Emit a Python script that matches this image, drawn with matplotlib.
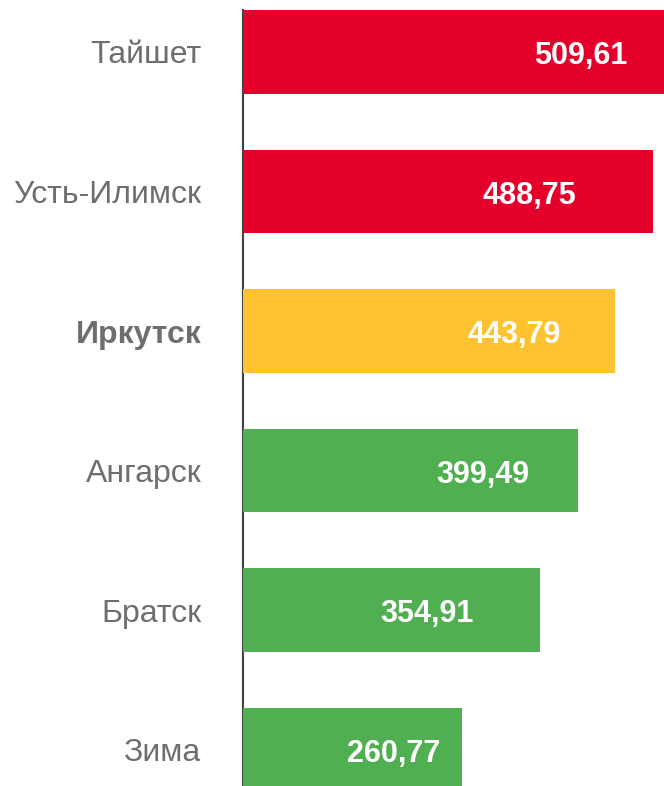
import matplotlib.pyplot as plt

plt.rcParams['font.family'] = ['Liberation Sans', 'DejaVu Sans']

# Data
cities = ["Тайшет", "Усть-Илимск", "Иркутск", "Ангарск", "Братск", "Зима"]
values = [509.61, 488.75, 443.79, 399.49, 354.91, 260.77]
colors = ["#E4002B", "#E4002B", "#FFC230", "#50AF50", "#50AF50", "#50AF50"]
# where the value text sits along each bar (share of bar length)
label_frac = [0.79, 0.70, 0.73, 0.715, 0.62, 0.69]

fig = plt.figure(figsize=(6.64, 7.86), dpi=100)
ax = fig.add_axes([243 / 664, 0, 1 - 243 / 664, 1 - 10 / 786])

pos = list(range(len(cities)))
ax.barh(pos, values, height=0.6, color=colors, zorder=2)

for p, v, f in zip(pos, values, label_frac):
    ax.text(v * f, p + 0.03, f"{v:.2f}".replace(".", ","), ha="center", va="center",
            color="white", fontsize=22, fontweight="bold", zorder=3)

ax.set_xlim(0, 502.4)
ax.set_ylim(5.26, -0.3)
ax.set_yticks(pos)
ax.set_yticklabels(cities, fontsize=23, color="#6E6E6E")
for lbl in ax.get_yticklabels():
    if lbl.get_text() == "Иркутск":
        lbl.set_fontweight("bold")
ax.tick_params(axis="y", length=0, pad=30)
ax.set_xticks([])

for s in ["top", "right", "bottom"]:
    ax.spines[s].set_visible(False)
ax.spines["left"].set_color("#404040")
ax.spines["left"].set_linewidth(1.5)
ax.spines["left"].set_zorder(1)

fig.savefig("out.png", dpi=100)
